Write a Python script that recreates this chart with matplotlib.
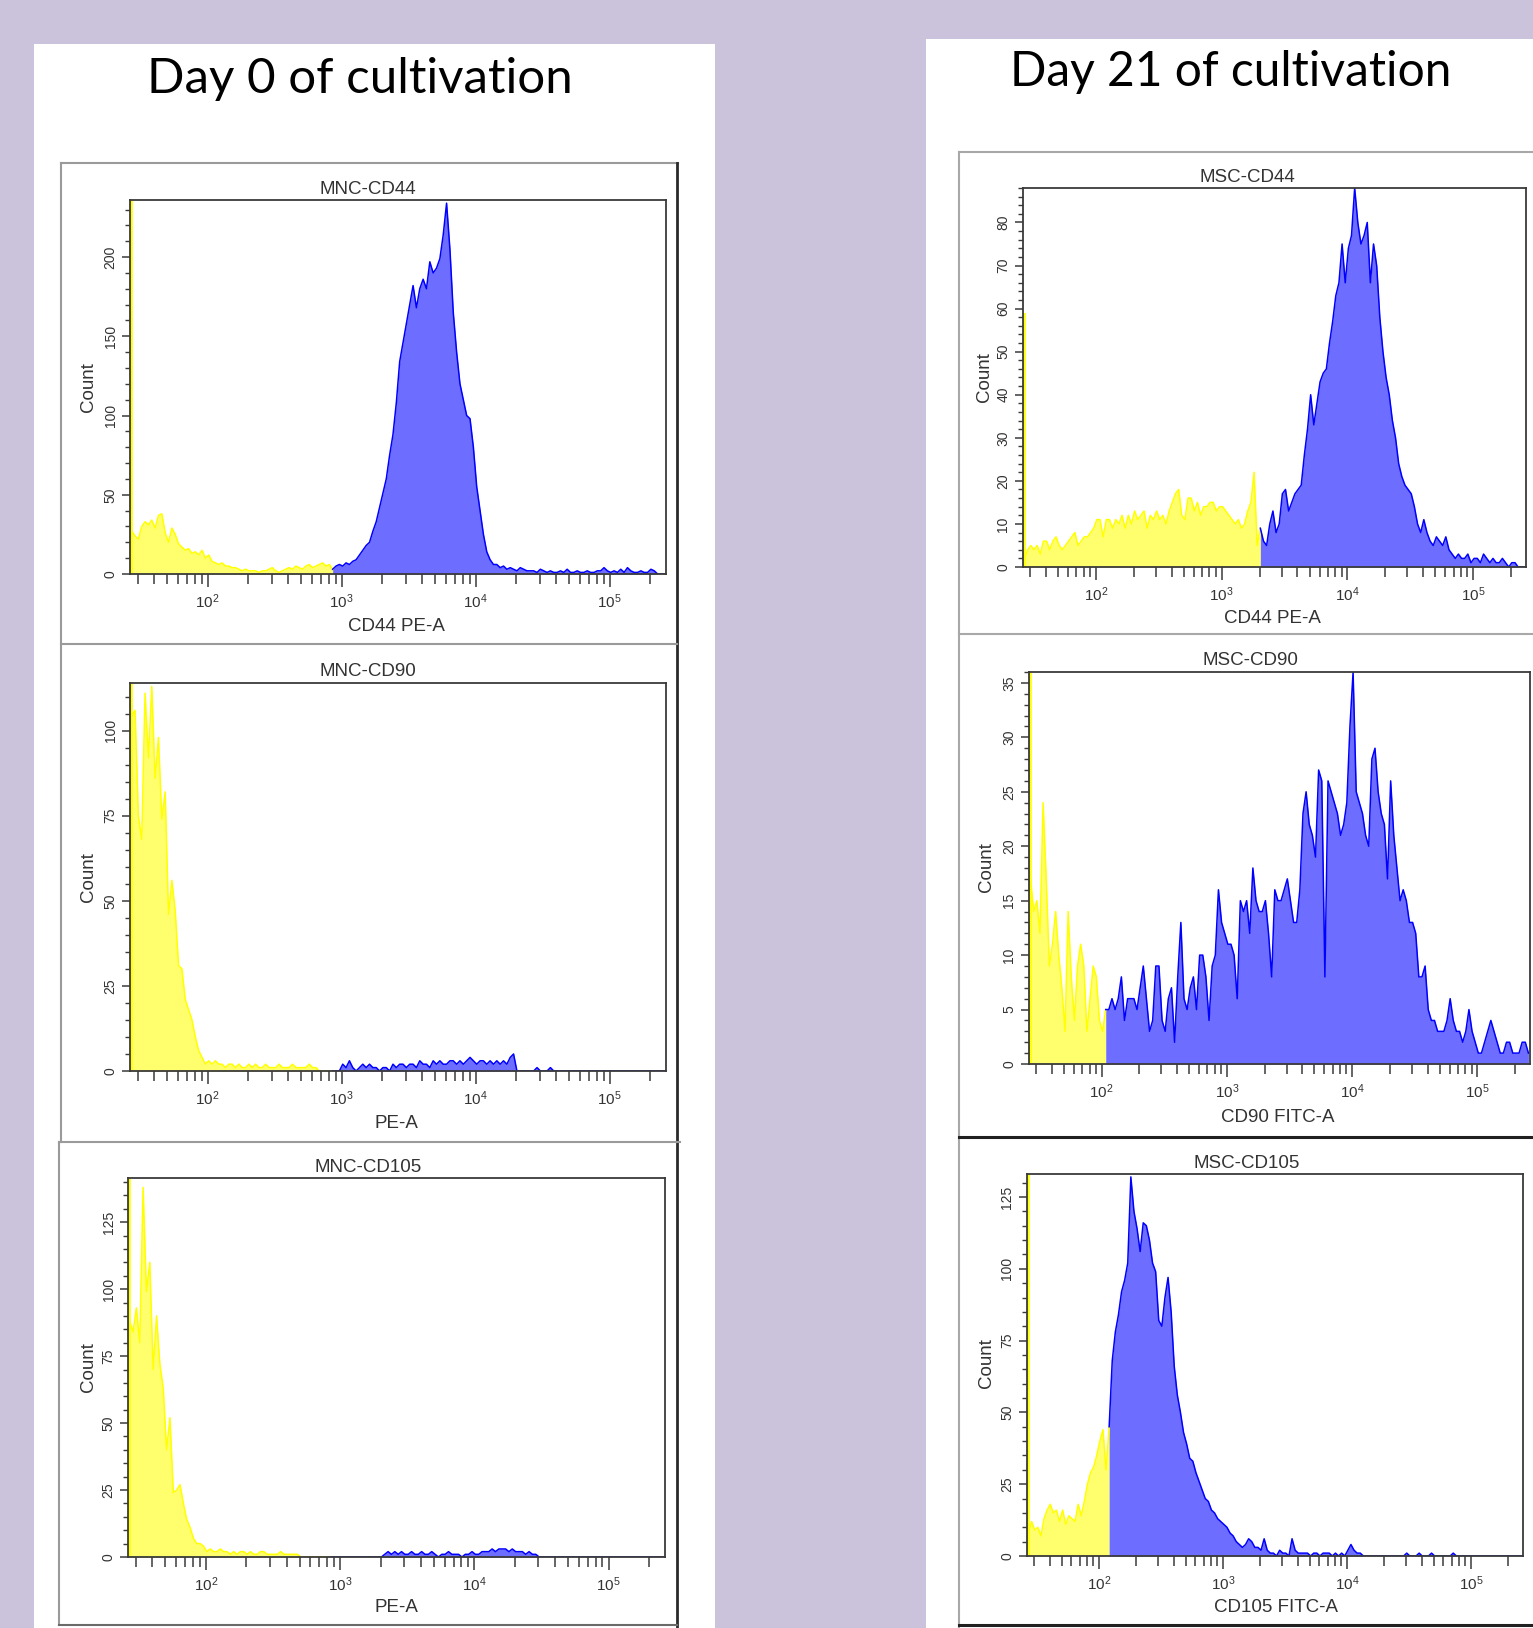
import numpy as np
import matplotlib
matplotlib.use("Agg")
import matplotlib.pyplot as plt
from matplotlib.lines import Line2D
from matplotlib.patches import Rectangle
from matplotlib.ticker import (FixedLocator, LogLocator, MultipleLocator,
                               NullFormatter, LogFormatterSciNotation)

W, H, DPI = 1533, 1628, 100

# cytometer log display: 160 bins of 0.025 decade starting at 10^1.42
BIN_LOG_START = 1.42
BIN_LOG_STEP = 0.025
X_DECADES = [1e2, 1e3, 1e4, 1e5]

# ---- Day 0 (MNC) ----
MNC_CD44_COUNTS = [
    27, 24, 22, 30, 33, 31, 34, 29, 37, 38, 26, 20, 29, 25, 19, 17, 15, 16, 13, 14,
    12, 15, 10, 12, 8, 7, 6, 7, 5, 5, 4, 4, 3, 2, 3, 2, 2, 2, 1, 2,
    2, 3, 4, 2, 1, 2, 3, 4, 3, 5, 4, 3, 5, 6, 4, 5, 6, 7, 5, 6,
    3, 5, 6, 5, 7, 6, 8, 9, 12, 15, 18, 20, 27, 33, 42, 51, 60, 75, 88, 108,
    134, 146, 158, 170, 182, 168, 180, 186, 180, 197, 190, 193, 199, 214, 234, 205, 165, 140, 120, 110,
    100, 98, 80, 55, 40, 25, 14, 9, 6, 6, 4, 5, 3, 4, 3, 2, 4, 3, 2, 2,
    2, 1, 3, 2, 1, 2, 1, 1, 2, 1, 3, 1, 1, 2, 1, 1, 2, 1, 1, 2,
    2, 4, 2, 1, 2, 1, 3, 1, 4, 2, 1, 1, 2, 1, 1, 3, 2, 0, 0, 0,
]
MNC_CD44_GATE = 60
MNC_CD44_OFFSCALE = 300

MNC_CD90_COUNTS = [
    104, 106, 75, 68, 111, 92, 113, 86, 98, 74, 82, 46, 56, 47, 31, 30, 21, 18, 15, 10,
    6, 4, 2, 3, 2, 3, 2, 2, 1, 2, 2, 1, 2, 1, 1, 2, 1, 2, 1, 1,
    2, 1, 1, 1, 2, 1, 1, 1, 2, 1, 1, 1, 1, 2, 1, 1, 0, 0, 0, 0,
    0, 0, 0, 2, 1, 3, 1, 0, 1, 2, 1, 2, 1, 1, 0, 1, 1, 0, 2, 1,
    2, 2, 1, 2, 2, 1, 3, 2, 2, 1, 3, 2, 3, 2, 2, 3, 3, 2, 3, 2,
    3, 4, 3, 2, 3, 3, 2, 3, 2, 3, 2, 3, 2, 4, 5, 0, 0, 0, 0, 0,
    0, 1, 0, 0, 0, 1, 0, 0, 0, 0, 0, 0, 0, 0, 0, 0, 0, 0, 0, 0,
    0, 0, 0, 0, 0, 0, 0, 0, 0, 0, 0, 0, 0, 0, 0, 0, 0, 0, 0, 0,
]
MNC_CD90_GATE = 60
MNC_CD90_OFFSCALE = 300

MNC_CD105_COUNTS = [
    88, 84, 93, 80, 138, 99, 110, 70, 90, 72, 63, 40, 52, 24, 25, 27, 20, 14, 11, 7,
    5, 5, 4, 2, 3, 2, 2, 3, 2, 2, 1, 2, 1, 2, 2, 1, 2, 1, 1, 2,
    2, 1, 1, 1, 1, 2, 1, 1, 1, 1, 1, 0, 0, 0, 0, 0, 0, 0, 0, 0,
    0, 0, 0, 0, 0, 0, 0, 0, 0, 0, 0, 0, 0, 0, 0, 0, 1, 2, 1, 2,
    1, 2, 1, 1, 2, 1, 1, 2, 1, 1, 2, 1, 0, 1, 1, 2, 1, 1, 1, 0,
    1, 1, 2, 1, 1, 2, 2, 2, 3, 2, 3, 3, 3, 2, 3, 2, 2, 2, 1, 2,
    1, 1, 0, 0, 0, 0, 0, 0, 0, 0, 0, 0, 0, 0, 0, 0, 0, 0, 0, 0,
    0, 0, 0, 0, 0, 0, 0, 0, 0, 0, 0, 0, 0, 0, 0, 0, 0, 0, 0, 0,
]
MNC_CD105_GATE = 60
MNC_CD105_OFFSCALE = 300

# ---- Day 21 (MSC) ----
MSC_CD44_COUNTS = [
    2, 4, 5, 4, 5, 3, 6, 6, 4, 6, 7, 5, 4, 5, 6, 7, 8, 5, 6, 7,
    7, 8, 9, 11, 11, 7, 11, 11, 9, 11, 10, 12, 9, 12, 10, 13, 11, 12, 13, 9,
    12, 11, 13, 11, 12, 10, 13, 15, 17, 18, 12, 11, 16, 16, 13, 15, 12, 14, 14, 15,
    15, 13, 14, 14, 13, 12, 11, 10, 11, 9, 10, 13, 15, 22, 5, 9, 6, 5, 10, 13,
    8, 10, 17, 18, 13, 15, 17, 18, 19, 26, 32, 40, 33, 38, 43, 45, 46, 52, 57, 63,
    66, 75, 66, 74, 77, 88, 80, 75, 77, 80, 66, 75, 70, 58, 50, 44, 40, 34, 30, 24,
    21, 19, 18, 17, 14, 10, 8, 11, 8, 6, 5, 7, 6, 5, 7, 4, 3, 2, 3, 2,
    2, 3, 1, 2, 2, 1, 3, 2, 1, 2, 1, 1, 2, 1, 0, 1, 1, 0, 0, 0,
]
MSC_CD44_GATE = 75
MSC_CD44_OFFSCALE = 59

MSC_CD90_COUNTS = [
    17, 14, 15, 12, 24, 17, 9, 11, 14, 10, 7, 3, 14, 8, 4, 9, 11, 9, 3, 6,
    9, 8, 4, 3, 5, 5, 6, 5, 6, 8, 4, 6, 6, 6, 5, 7, 9, 6, 3, 4,
    9, 9, 4, 3, 6, 7, 2, 8, 13, 6, 5, 7, 8, 5, 10, 10, 8, 4, 9, 10,
    16, 13, 12, 11, 11, 10, 6, 15, 14, 15, 12, 18, 15, 14, 14, 15, 12, 8, 16, 15,
    15, 16, 17, 15, 13, 13, 16, 23, 25, 22, 21, 19, 27, 26, 8, 26, 25, 24, 23, 21,
    22, 24, 31, 36, 25, 24, 23, 21, 20, 28, 29, 25, 23, 22, 17, 26, 21, 18, 15, 16,
    15, 13, 13, 12, 8, 8, 9, 5, 4, 4, 3, 3, 3, 4, 6, 4, 3, 3, 2, 3,
    5, 3, 2, 1, 1, 2, 3, 4, 3, 2, 1, 1, 2, 2, 1, 1, 1, 2, 2, 1,
]
MSC_CD90_GATE = 24
MSC_CD90_OFFSCALE = 100

MSC_CD105_COUNTS = [
    8, 12, 9, 10, 7, 13, 16, 18, 15, 16, 12, 16, 11, 14, 13, 12, 18, 14, 19, 25,
    29, 31, 35, 40, 44, 30, 45, 68, 78, 84, 92, 96, 102, 132, 120, 114, 106, 116, 115, 110,
    102, 99, 82, 80, 90, 97, 85, 66, 56, 50, 43, 39, 34, 33, 29, 26, 23, 20, 19, 16,
    15, 13, 12, 11, 10, 8, 7, 5, 4, 3, 4, 6, 5, 3, 3, 2, 6, 2, 1, 1,
    0, 2, 1, 1, 0, 6, 2, 1, 1, 1, 1, 0, 1, 1, 0, 1, 1, 1, 0, 1,
    0, 1, 0, 2, 4, 2, 1, 1, 0, 0, 0, 0, 0, 0, 0, 0, 0, 0, 0, 0,
    0, 0, 1, 0, 0, 0, 1, 0, 0, 0, 1, 0, 0, 0, 0, 0, 0, 1, 0, 0,
    0, 0, 0, 0, 0, 0, 0, 0, 0, 0, 0, 0, 0, 0, 0, 0, 0, 0, 0, 0,
]
MSC_CD105_GATE = 26
MSC_CD105_OFFSCALE = 300

PANELS = [
    ("MNC-CD44", "CD44 PE-A", MNC_CD44_COUNTS, MNC_CD44_GATE, MNC_CD44_OFFSCALE, 236, 50, 10),
    ("MNC-CD90", "PE-A", MNC_CD90_COUNTS, MNC_CD90_GATE, MNC_CD90_OFFSCALE, 114, 25, 5),
    ("MNC-CD105", "PE-A", MNC_CD105_COUNTS, MNC_CD105_GATE, MNC_CD105_OFFSCALE, 141.5, 25, 5),
    ("MSC-CD44", "CD44 PE-A", MSC_CD44_COUNTS, MSC_CD44_GATE, MSC_CD44_OFFSCALE, 88, 10, 2),
    ("MSC-CD90", "CD90 FITC-A", MSC_CD90_COUNTS, MSC_CD90_GATE, MSC_CD90_OFFSCALE, 36, 5, 1),
    ("MSC-CD105", "CD105 FITC-A", MSC_CD105_COUNTS, MSC_CD105_GATE, MSC_CD105_OFFSCALE, 133, 25, 5),
]

# pixel layout: axes box (l, t, r, b), title centre, x-label centre, "Count" centre
LAYOUT = {
    "MNC-CD44": ((130, 200, 666, 574), (368, 189), (396, 627), (88, 387)),
    "MNC-CD90": ((130, 683, 666, 1071), (368, 672), (396, 1123), (88, 877)),
    "MNC-CD105": ((128, 1178, 665, 1557), (368, 1167), (396, 1608), (88, 1367)),
    "MSC-CD44": ((1023, 188, 1526, 567), (1247, 178), (1272, 618), (984, 377)),
    "MSC-CD90": ((1029, 672, 1530, 1064), (1250, 660), (1278, 1117), (986, 867)),
    "MSC-CD105": ((1027, 1174, 1523, 1556), (1247, 1163), (1276, 1607), (986, 1363)),
}

LAVENDER = "#cbc3dc"
YELLOW_FILL, YELLOW_LINE = "#ffff6e", "#ffff00"
BLUE_FILL, BLUE_LINE = "#6d6dff", "#0000ff"
AXIS_COLOR = "#3a3a3a"
TEXT_COLOR = "#333333"

plt.rcParams["font.family"] = ["Liberation Sans", "DejaVu Sans"]
plt.rcParams["mathtext.fontset"] = "custom"
plt.rcParams["mathtext.rm"] = "Liberation Sans"


def fx(px):
    return px / W


def fy(py):
    return 1 - py / H


def fig_line(fig, xs, ys, color, lw):
    fig.add_artist(Line2D([fx(x) for x in xs], [fy(y) for y in ys],
                          transform=fig.transFigure, color=color, lw=lw, zorder=1))


def fig_text(fig, xy, s, **kw):
    fig.text(fx(xy[0]), fy(xy[1]), s, color=TEXT_COLOR, **kw)


def draw_histogram(ax, counts, gate, offscale):
    counts = np.asarray(counts, dtype=float)
    edges = 10 ** (BIN_LOG_START + BIN_LOG_STEP * np.arange(len(counts) + 1))
    centers = np.sqrt(edges[:-1] * edges[1:])
    parts = [(slice(0, gate + 1), YELLOW_FILL, YELLOW_LINE),
             (slice(gate, None), BLUE_FILL, BLUE_LINE)]
    for sl, fill, line in parts:
        x, y = centers[sl], counts[sl]
        ax.fill_between(x, 0, y, color=fill, lw=0)
        ax.plot(x, y, color=line, lw=1.1)
    # events piled up at the low end of the scale
    ax.vlines(edges[0], 0, offscale, color=YELLOW_LINE, lw=4)
    ax.set_xscale("log")
    ax.set_xlim(edges[0], edges[-1])


fig = plt.figure(figsize=(W / DPI, H / DPI), dpi=DPI, facecolor=LAVENDER)

# white slide panels
for (l, t, r, b) in [(34, 44, 715, 1628), (926, 39, 1533, 1628)]:
    fig.add_artist(Rectangle((fx(l), fy(b)), (r - l) / W, (b - t) / H,
                             transform=fig.transFigure, facecolor="white",
                             edgecolor="none", zorder=-1))

# frames around the exported plots
fig_line(fig, [61, 678], [163, 163], "#9a9a9a", 1.5)
fig_line(fig, [61, 61], [163, 1142], "#9a9a9a", 1.5)
fig_line(fig, [677, 677], [163, 1628], "#2a2a2a", 2)
fig_line(fig, [61, 677], [644, 644], "#9a9a9a", 1.5)
fig_line(fig, [59, 680], [1142, 1142], "#9a9a9a", 1.5)
fig_line(fig, [59, 59], [1142, 1625], "#9a9a9a", 1.5)
fig_line(fig, [59, 677], [1625, 1625], "#6a6a6a", 1.5)
fig_line(fig, [959, 1533], [152, 152], "#a8a8a8", 1.5)
fig_line(fig, [959, 959], [152, 1628], "#a8a8a8", 1.5)
fig_line(fig, [959, 1533], [634, 634], "#a8a8a8", 1.5)
fig_line(fig, [959, 1533], [1137, 1137], "#202020", 2.2)
fig_line(fig, [959, 1533], [1625, 1625], "#202020", 2.2)

fig.text(fx(360), fy(93), "Day 0 of cultivation", family=["Lato", "DejaVu Sans"],
         fontsize=35.5, ha="center", va="baseline", color="black")
fig.text(fx(1231), fy(86), "Day 21 of cultivation", family=["Lato", "DejaVu Sans"],
         fontsize=34.5, ha="center", va="baseline", color="black")

for name, xlabel, counts, gate, offscale, ymax, ymajor, yminor in PANELS:
    (l, t, r, b), title_xy, xlabel_xy, ylabel_xy = LAYOUT[name]
    ax = fig.add_axes([fx(l), fy(b), (r - l) / W, (b - t) / H])
    draw_histogram(ax, counts, gate, offscale)
    ax.set_ylim(0, ymax)

    ax.xaxis.set_major_locator(FixedLocator(X_DECADES))
    ax.xaxis.set_major_formatter(LogFormatterSciNotation())
    ax.xaxis.set_minor_locator(LogLocator(base=10, subs=np.arange(2, 10), numticks=20))
    ax.xaxis.set_minor_formatter(NullFormatter())
    ax.yaxis.set_major_locator(MultipleLocator(ymajor))
    ax.yaxis.set_minor_locator(MultipleLocator(yminor))

    ax.tick_params(axis="x", which="major", length=9, width=1.1, pad=4,
                   labelsize=11, colors=AXIS_COLOR, labelcolor=TEXT_COLOR)
    ax.tick_params(axis="x", which="minor", length=7, width=1.1, colors=AXIS_COLOR)
    ax.tick_params(axis="y", which="major", length=6, width=1.1, pad=3,
                   labelsize=10, labelrotation=90, colors=AXIS_COLOR, labelcolor=TEXT_COLOR)
    ax.tick_params(axis="y", which="minor", length=3.5, width=1.0, colors=AXIS_COLOR)
    plt.setp(ax.get_yticklabels(), va="center")
    for sp in ax.spines.values():
        sp.set_color(AXIS_COLOR)
        sp.set_linewidth(1.3)

    fig_text(fig, title_xy, name, fontsize=13.5, ha="center", va="center")
    fig_text(fig, xlabel_xy, xlabel, fontsize=13.5, ha="center", va="center")
    fig_text(fig, ylabel_xy, "Count", fontsize=13.5, ha="center", va="center", rotation=90)

fig.savefig("out.png", dpi=DPI, facecolor=fig.get_facecolor())
